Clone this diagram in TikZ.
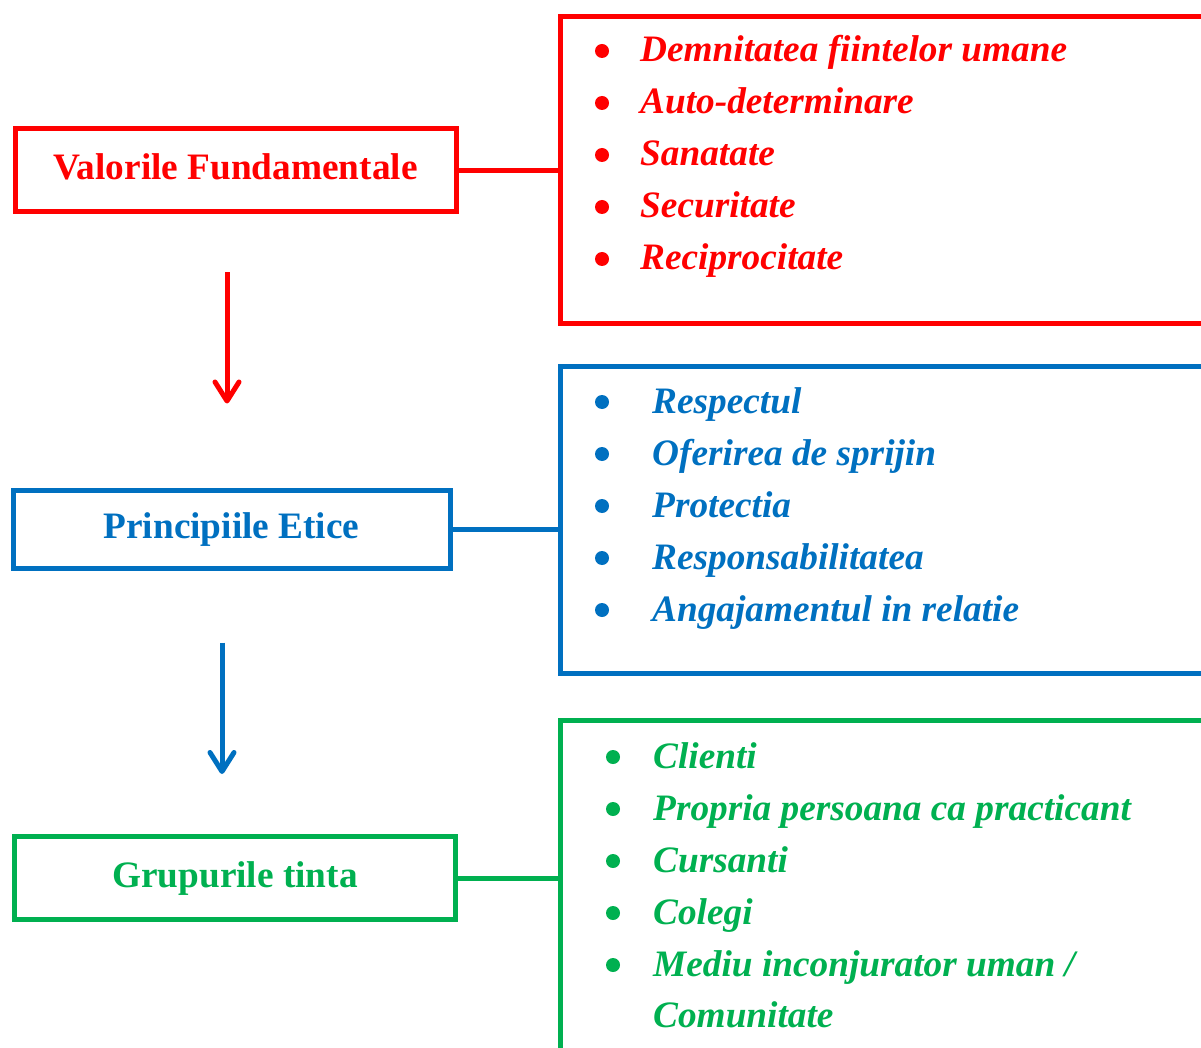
\documentclass[tikz,border=0pt]{standalone}
\usepackage{fontspec}
\setmainfont{Liberation Serif}
\usetikzlibrary{arrows.meta, positioning}
\definecolor{valred}{HTML}{FF0000}
\definecolor{etblue}{HTML}{0070C0}
\definecolor{grgreen}{HTML}{00B050}

\begin{document}
\begin{tikzpicture}[
    x=1pt, y=-1pt,
    headbox/.style={
        rectangle, draw, line width=5pt,
        minimum width=441pt, minimum height=83pt,
        text height=26pt, text depth=8pt,
        font=\fontsize{37.3}{44}\selectfont\bfseries
    },
    listbox/.style={
        rectangle, draw, line width=5pt, anchor=north west,
        minimum width=800pt
    },
    item/.style={anchor=base west, inner sep=0pt,
        font=\fontsize{37.3}{44}\selectfont\bfseries\itshape},
    link/.style={line width=5pt},
    down/.style={line width=5pt, -{Straight Barb[length=19pt, width=24pt, round]}},
]
\useasboundingbox (0,0) rectangle (1201,1048);
\clip (0,0) rectangle (1201,1048);

% Valori
\node[headbox, draw=valred, text=valred] (valori) at (235.5,170.5) {Valorile Fundamentale};
\node[listbox, draw=valred, minimum height=307pt] (valist) at (558,14) {};
\foreach \txt [count=\n] in {Demnitatea fiintelor umane, Auto-determinare,
    Sanatate, Securitate, Reciprocitate}{
  \node[item, text=valred] (val\n) at (640, 10+52*\n) {\txt};
  \fill[valred] ([shift={(-38,-11)}]val\n.base west) circle[radius=7pt];
}

% Principii
\node[headbox, draw=etblue, text=etblue, minimum width=437pt, minimum height=78pt] (princ) at (231.5,529) {Principiile Etice};
\node[listbox, draw=etblue, minimum height=307pt] (prlist) at (558,364) {};
\foreach \txt [count=\n] in {Respectul, Oferirea de sprijin, Protectia,
    Responsabilitatea, Angajamentul in relatie}{
  \node[item, text=etblue] (pr\n) at (652, 361+52*\n) {\txt};
  \fill[etblue] ([shift={(-50,-11)}]pr\n.base west) circle[radius=7pt];
}

% Grupuri
\node[headbox, draw=grgreen, text=grgreen] (grup) at (235,878) {Grupurile tinta};
\node[listbox, draw=grgreen, minimum height=400pt] (grlist) at (558,718) {};
\foreach \txt [count=\n] in {Clienti, Propria persoana ca practicant,
    Cursanti, Colegi, Mediu inconjurator uman /}{
  \node[item, text=grgreen] (gr\n) at (653, 716+52*\n) {\txt};
  \fill[grgreen] ([shift={(-40,-11)}]gr\n.base west) circle[radius=7pt];
}
\node[item, text=grgreen] (gr6) at (653,1027) {Comunitate};

% legaturi
\draw[link, valred] (valori.east) -- (valori.east -| valist.west);
\draw[link, etblue] (princ.east) -- (princ.east -| prlist.west);
\draw[link, grgreen] (grup.east) -- (grup.east -| grlist.west);

% sageti
\draw[down, valred] ([xshift=-8.5pt, yshift=-58pt]valori.south) -- ([xshift=-4.5pt, yshift=84pt]princ.north);
\draw[down, etblue] ([xshift=-9.5pt, yshift=-72pt]princ.south) -- ([xshift=-13pt, yshift=60pt]grup.north);
\end{tikzpicture}
\end{document}
